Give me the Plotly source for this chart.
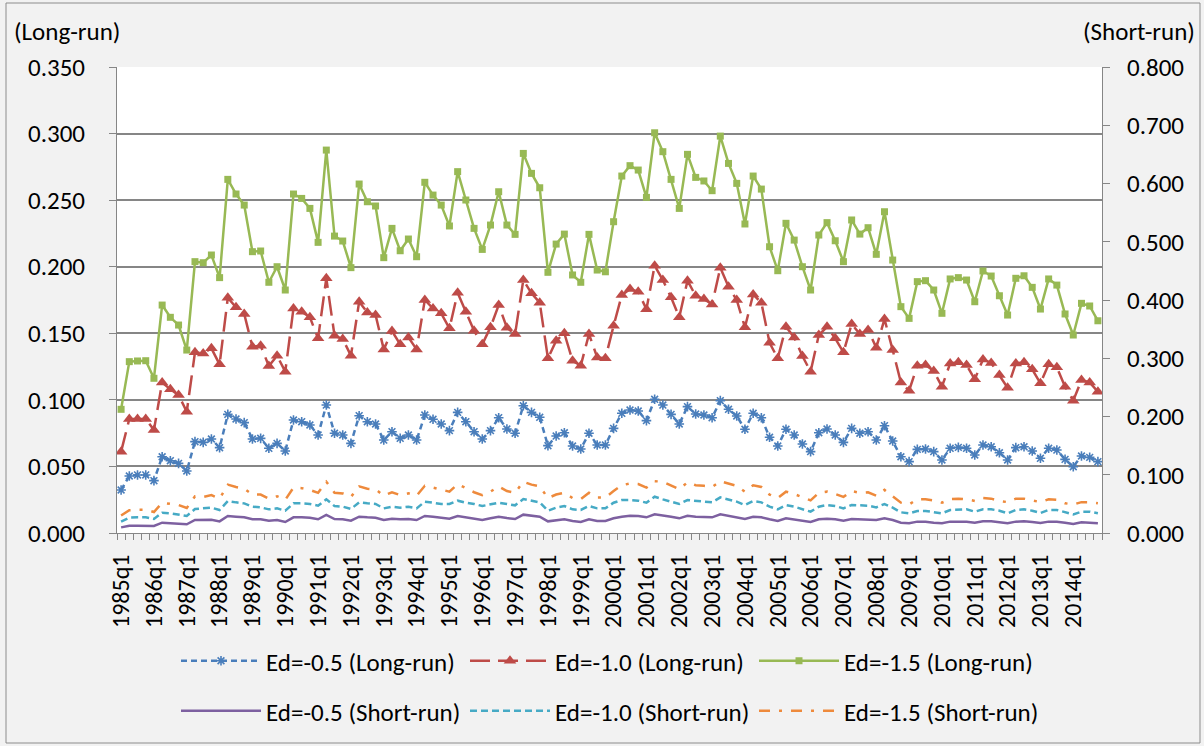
import plotly.graph_objects as go

# ---------------- data ----------------
years = list(range(1985, 2015))
quarters = [f"{y}q{q}" for y in years for q in (1, 2, 3, 4)]
tick_labels = [q for q in quarters if q.endswith("q1")]

lr_05 = [0.0323,0.0428,0.0436,0.0436,0.0393,0.0573,0.0543,0.0523,0.0466,0.0686,
         0.0681,0.0706,0.0641,0.0891,0.0856,0.0829,0.0706,0.0711,0.0636,0.0673,
         0.0616,0.0849,0.0836,0.0811,0.0736,0.0961,0.0749,0.0736,0.0673,0.0881,
         0.0836,0.0819,0.0698,0.0761,0.0711,0.0736,0.0698,0.0886,0.0854,0.0819,
         0.0769,0.0906,0.0836,0.0761,0.0706,0.0769,0.0866,0.0781,0.0749,0.0956,
         0.0906,0.0869,0.0656,0.0728,0.0753,0.0653,0.0631,0.0749,0.0661,0.0661,
         0.0786,0.0899,0.0924,0.0916,0.0844,0.1004,0.0961,0.0891,0.0819,0.0949,
         0.0894,0.0886,0.0866,0.0994,0.0929,0.0879,0.0779,0.0899,0.0866,0.0719,
         0.0653,0.0779,0.0736,0.0668,0.0611,0.0753,0.0781,0.0736,0.0681,0.0786,
         0.0749,0.0761,0.0698,0.0806,0.0691,0.0573,0.0536,0.0628,0.0631,0.0611,
         0.0548,0.0636,0.0643,0.0636,0.0586,0.0661,0.0648,0.0603,0.0548,0.0641,
         0.0648,0.0616,0.0561,0.0636,0.0623,0.0553,0.0498,0.0578,0.0568,0.0536]

lr_10 = [0.0611,0.0856,0.0856,0.0856,0.0774,0.1131,0.1079,0.1036,0.0911,0.1357,
         0.1349,0.1387,0.1267,0.1767,0.1695,0.1645,0.1399,0.1407,0.1254,0.1332,
         0.1212,0.1687,0.1662,0.1620,0.1462,0.1913,0.1482,0.1457,0.1332,0.1737,
         0.1657,0.1637,0.1379,0.1517,0.1417,0.1469,0.1379,0.1750,0.1687,0.1650,
         0.1537,0.1805,0.1662,0.1519,0.1417,0.1545,0.1712,0.1542,0.1494,0.1900,
         0.1800,0.1730,0.1312,0.1444,0.1500,0.1294,0.1257,0.1494,0.1319,0.1312,
         0.1557,0.1787,0.1832,0.1812,0.1680,0.2008,0.1900,0.1770,0.1620,0.1895,
         0.1782,0.1757,0.1717,0.1993,0.1850,0.1750,0.1545,0.1792,0.1730,0.1429,
         0.1312,0.1549,0.1469,0.1329,0.1212,0.1487,0.1549,0.1462,0.1357,0.1570,
         0.1494,0.1525,0.1392,0.1607,0.1374,0.1131,0.1069,0.1257,0.1262,0.1217,
         0.1099,0.1274,0.1282,0.1262,0.1154,0.1304,0.1277,0.1187,0.1091,0.1274,
         0.1282,0.1229,0.1124,0.1267,0.1244,0.1099,0.0994,0.1149,0.1131,0.1061]

lr_15 = [0.0929,0.1287,0.1292,0.1294,0.1162,0.1712,0.1620,0.1562,0.1374,0.2038,
         0.2030,0.2088,0.1918,0.2656,0.2546,0.2463,0.2113,0.2118,0.1883,0.2000,
         0.1825,0.2546,0.2513,0.2438,0.2183,0.2876,0.2230,0.2193,0.1993,0.2621,
         0.2488,0.2456,0.2068,0.2288,0.2120,0.2208,0.2075,0.2634,0.2538,0.2463,
         0.2306,0.2714,0.2501,0.2288,0.2130,0.2313,0.2563,0.2313,0.2243,0.2851,
         0.2701,0.2593,0.1958,0.2170,0.2245,0.1938,0.1883,0.2243,0.1975,0.1962,
         0.2338,0.2681,0.2759,0.2726,0.2521,0.3006,0.2864,0.2656,0.2438,0.2844,
         0.2671,0.2644,0.2571,0.2981,0.2776,0.2626,0.2321,0.2681,0.2583,0.2150,
         0.1970,0.2326,0.2200,0.2000,0.1825,0.2238,0.2331,0.2195,0.2038,0.2351,
         0.2245,0.2293,0.2093,0.2413,0.2050,0.1700,0.1612,0.1888,0.1895,0.1825,
         0.1650,0.1908,0.1918,0.1900,0.1737,0.1968,0.1930,0.1782,0.1637,0.1913,
         0.1932,0.1845,0.1682,0.1908,0.1862,0.1645,0.1487,0.1725,0.1705,0.1594]

sr_05 = [0.0097,0.0126,0.0126,0.0126,0.0120,0.0177,0.0170,0.0166,0.0149,0.0223,
         0.0220,0.0229,0.0200,0.0292,0.0280,0.0269,0.0235,0.0235,0.0212,0.0223,
         0.0189,0.0269,0.0269,0.0263,0.0235,0.0309,0.0240,0.0235,0.0212,0.0280,
         0.0269,0.0263,0.0223,0.0246,0.0235,0.0240,0.0223,0.0292,0.0280,0.0263,
         0.0246,0.0292,0.0269,0.0246,0.0223,0.0252,0.0280,0.0257,0.0240,0.0315,
         0.0297,0.0280,0.0200,0.0223,0.0235,0.0206,0.0189,0.0235,0.0206,0.0206,
         0.0252,0.0280,0.0297,0.0292,0.0269,0.0320,0.0303,0.0280,0.0252,0.0297,
         0.0280,0.0280,0.0269,0.0320,0.0297,0.0275,0.0240,0.0280,0.0269,0.0235,
         0.0206,0.0252,0.0235,0.0212,0.0189,0.0235,0.0246,0.0235,0.0212,0.0240,
         0.0235,0.0240,0.0223,0.0252,0.0223,0.0177,0.0166,0.0195,0.0195,0.0177,
         0.0166,0.0195,0.0195,0.0195,0.0177,0.0200,0.0200,0.0183,0.0166,0.0195,
         0.0200,0.0189,0.0172,0.0195,0.0195,0.0177,0.0155,0.0183,0.0177,0.0166]

sr_10 = [0.0194,0.0263,0.0269,0.0269,0.0240,0.0349,0.0338,0.0320,0.0292,0.0412,
         0.0423,0.0435,0.0395,0.0549,0.0526,0.0509,0.0452,0.0440,0.0406,0.0423,
         0.0383,0.0509,0.0509,0.0498,0.0469,0.0578,0.0463,0.0452,0.0412,0.0526,
         0.0509,0.0498,0.0423,0.0452,0.0435,0.0452,0.0423,0.0538,0.0520,0.0498,
         0.0498,0.0555,0.0520,0.0498,0.0463,0.0498,0.0520,0.0498,0.0475,0.0583,
         0.0555,0.0526,0.0383,0.0435,0.0463,0.0406,0.0395,0.0463,0.0423,0.0423,
         0.0520,0.0566,0.0566,0.0555,0.0520,0.0623,0.0578,0.0538,0.0498,0.0566,
         0.0549,0.0538,0.0526,0.0612,0.0578,0.0538,0.0480,0.0549,0.0526,0.0452,
         0.0406,0.0480,0.0452,0.0406,0.0366,0.0452,0.0480,0.0463,0.0423,0.0480,
         0.0469,0.0469,0.0440,0.0498,0.0435,0.0355,0.0338,0.0378,0.0378,0.0355,
         0.0338,0.0395,0.0406,0.0406,0.0366,0.0406,0.0406,0.0383,0.0338,0.0395,
         0.0406,0.0383,0.0343,0.0395,0.0395,0.0355,0.0320,0.0366,0.0366,0.0338]

sr_15 = [0.030,0.039,0.040,0.040,0.036,0.052,0.050,0.048,0.043,0.063,
         0.062,0.065,0.059,0.083,0.079,0.076,0.066,0.066,0.059,0.063,
         0.057,0.078,0.077,0.074,0.069,0.088,0.069,0.068,0.062,0.080,
         0.076,0.075,0.064,0.070,0.065,0.068,0.064,0.081,0.078,0.075,
         0.071,0.084,0.077,0.070,0.065,0.071,0.080,0.072,0.069,0.088,
         0.083,0.080,0.060,0.066,0.069,0.060,0.058,0.069,0.061,0.061,
         0.072,0.082,0.085,0.084,0.078,0.089,0.088,0.082,0.075,0.087,
         0.082,0.081,0.079,0.089,0.085,0.081,0.071,0.082,0.079,0.066,
         0.060,0.071,0.067,0.061,0.056,0.069,0.071,0.067,0.062,0.072,
         0.069,0.070,0.064,0.074,0.063,0.052,0.049,0.058,0.058,0.056,
         0.052,0.058,0.059,0.058,0.055,0.060,0.059,0.055,0.053,0.059,
         0.059,0.056,0.053,0.058,0.057,0.051,0.049,0.053,0.053,0.051]

# ---------------- figure ----------------
W, H = 1204, 746
ML, MR, MT, MB = 117, 102, 67, 213
FONT = "Calibri, Carlito, 'Liberation Sans', Arial, sans-serif"
GRID = "#868686"

x = list(range(len(quarters)))

fig = go.Figure()

long_specs = [
    ("Ed=-0.5 (Long-run)", lr_05, "#4A7EBB", "6px,4px",
     dict(symbol="asterisk-open", size=8, line=dict(width=1.6, color="#4A7EBB"))),
    ("Ed=-1.0 (Long-run)", lr_10, "#BE4B48", "20px,8px",
     dict(symbol="triangle-up", size=11, color="#BE4B48")),
    ("Ed=-1.5 (Long-run)", lr_15, "#98B954", "solid",
     dict(symbol="square", size=7, color="#98B954")),
]
for name, vals, col, dash, mk in long_specs:
    fig.add_trace(go.Scatter(
        x=x, y=vals, name=name, mode="lines+markers",
        line=dict(color=col, width=2.5, dash=dash), marker=mk,
        yaxis="y", legend="legend", hoverinfo="skip"))

short_specs = [
    ("Ed=-0.5 (Short-run)", sr_05, "#7D60A0", "solid"),
    ("Ed=-1.0 (Short-run)", sr_10, "#46AAC5", "7px,4px"),
    ("Ed=-1.5 (Short-run)", sr_15, "#EE8A3C", "11px,9px,3px,9px"),
]
for name, vals, col, dash in short_specs:
    fig.add_trace(go.Scatter(
        x=x, y=vals, name=name, mode="lines",
        line=dict(color=col, width=2.5, dash=dash),
        yaxis="y2", legend="legend2", hoverinfo="skip"))

pw = W - ML - MR
ph = H - MT - MB

legend_common = dict(
    orientation="h", xref="container", yref="container",
    x=176 / W, xanchor="left", yanchor="middle",
    font=dict(family=FONT, size=25, color="#000000"),
    bgcolor="rgba(0,0,0,0)", itemwidth=80,
    entrywidth=194, entrywidthmode="pixels",
    traceorder="normal",
)

fig.update_layout(
    width=W, height=H,
    margin=dict(l=ML, r=MR, t=MT, b=MB, pad=0, autoexpand=False),
    paper_bgcolor="#F2F2F2", plot_bgcolor="#FFFFFF",
    font=dict(family=FONT, size=25, color="#000000"),
    showlegend=True,
    legend=dict(legend_common, y=1 - 661 / H),
    legend2=dict(legend_common, y=1 - 711 / H),
    xaxis=dict(
        range=[-0.5, len(quarters) - 0.5],
        tickmode="array",
        tickvals=[i for i, q in enumerate(quarters) if q.endswith("q1")],
        ticktext=tick_labels,
        tickangle=-90, ticks="", ticklabelstandoff=11,
        tickfont=dict(family=FONT, size=24),
        showline=True, linecolor=GRID, linewidth=1,
        showgrid=False, zeroline=False, automargin=False,
        minor=dict(ticks="outside", ticklen=6, tickcolor=GRID,
                   tick0=-0.5, dtick=1, showgrid=False),
    ),
    yaxis=dict(
        range=[0, 0.35], dtick=0.05, tickformat=".3f",
        showgrid=True, gridcolor=GRID, gridwidth=1.5,
        showline=True, linecolor=GRID, linewidth=1,
        ticks="outside", ticklen=7, tickcolor=GRID,
        ticklabelstandoff=19, automargin=False,
        zeroline=False, tickfont=dict(family=FONT, size=25),
    ),
    yaxis2=dict(
        range=[0, 0.8], dtick=0.1, tickformat=".3f",
        overlaying="y", side="right",
        showgrid=False, showline=True, linecolor=GRID, linewidth=1,
        ticks="outside", ticklen=7, tickcolor=GRID,
        ticklabelstandoff=12, automargin=False,
        zeroline=False, tickfont=dict(family=FONT, size=25),
    ),
    annotations=[
        dict(text="(Long-run)", xref="paper", yref="paper",
             x=(12 - ML) / pw, y=(H - MB - 32) / ph,
             xanchor="left", yanchor="middle", showarrow=False,
             font=dict(family=FONT, size=25)),
        dict(text="(Short-run)", xref="paper", yref="paper",
             x=(1197 - ML) / pw, y=(H - MB - 32) / ph,
             xanchor="right", yanchor="middle", showarrow=False,
             font=dict(family=FONT, size=25)),
    ],
    shapes=[
        dict(type="rect", xref="paper", yref="paper",
             x0=(6 - ML) / pw, x1=(1200 - ML) / pw,
             y0=(H - MB - 743) / ph, y1=(H - MB - 3) / ph,
             line=dict(color="#8C8C8C", width=1), fillcolor="rgba(0,0,0,0)",
             layer="below"),
    ],
)

fig.write_html(
    "out.html",
    config={"displayModeBar": False},
    post_script="document.body.style.margin='0';document.body.style.padding='0';"
                "document.body.style.overflow='hidden';",
)
